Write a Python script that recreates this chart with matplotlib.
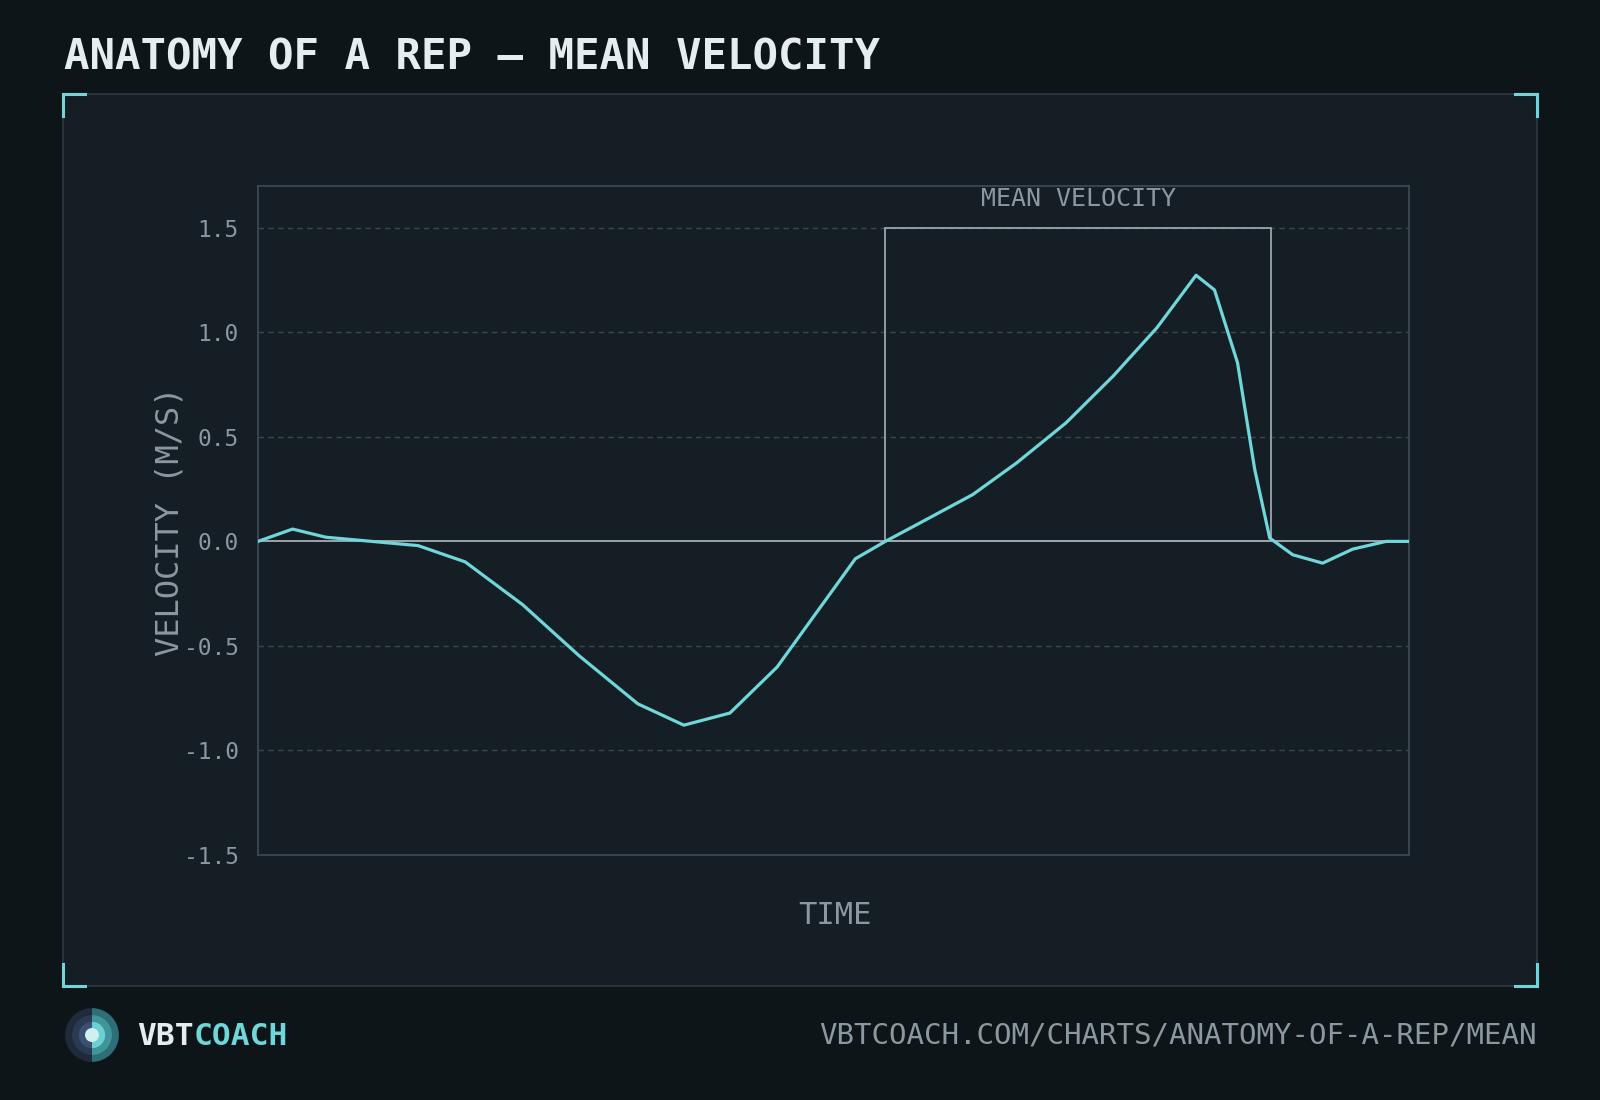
import numpy as np
import matplotlib
matplotlib.use("Agg")
import matplotlib.pyplot as plt
from matplotlib.patches import Rectangle, Wedge, Circle
from matplotlib.lines import Line2D

plt.rcParams['font.family'] = ['DejaVu Sans Mono', 'DejaVu Sans']
plt.rcParams['axes.unicode_minus'] = False

# ---- data (time normalised to the rep, velocity in m/s) ----
t_norm = [0.000, 0.030, 0.059, 0.099, 0.139, 0.180, 0.230, 0.279, 0.330, 0.370,
          0.410, 0.451, 0.519, 0.545, 0.575, 0.621, 0.659, 0.702, 0.743, 0.781,
          0.815, 0.831, 0.851, 0.866, 0.879, 0.899, 0.925, 0.951, 0.980, 1.000]
velocity = [0.000, 0.059, 0.020, 0.000, -0.020, -0.098, -0.303, -0.547, -0.777, -0.879,
            -0.821, -0.601, -0.083, 0.000, 0.088, 0.224, 0.375, 0.567, 0.791, 1.022,
            1.273, 1.203, 0.855, 0.343, 0.016, -0.064, -0.104, -0.037, 0.000, 0.000]

concentric_start = 0.545
concentric_end = 0.880
mean_box_top = 1.5

yticks = [-1.5, -1.0, -0.5, 0.0, 0.5, 1.0, 1.5]
ytick_labels = ['-1.5', '-1.0', '-0.5', '0.0', '0.5', '1.0', '1.5']

# ---- colours ----
BG = '#0e1519'
PANEL = '#161e25'
PANEL_EDGE = '#2e3940'
CYAN = '#6fd6d9'
MUTED = '#8b989f'
GRID = '#3a464e'
SPINE = '#3f4b53'
ZERO = '#b0bcc2'
WHITE = '#e6edf0'

W, H = 1600, 1100
fig = plt.figure(figsize=(16, 11), dpi=100, facecolor=BG)


def fx(px):
    return px / W


def fy(py):
    return 1 - py / H


# panel
x0, y0, x1, y1 = 63, 94, 1537, 986
fig.patches.append(Rectangle((fx(x0), fy(y1)), fx(x1 - x0), (y1 - y0) / H,
                             transform=fig.transFigure, facecolor=PANEL,
                             edgecolor=PANEL_EDGE, lw=1.2, zorder=-5))
# corner brackets
L = 22
for cx, cy, dx, dy in [(x0, y0, 1, 1), (x1, y0, -1, 1), (x0, y1, 1, -1), (x1, y1, -1, -1)]:
    fig.lines.append(Line2D([fx(cx), fx(cx + dx * L)], [fy(cy), fy(cy)],
                            transform=fig.transFigure, color=CYAN, lw=2.2, zorder=5))
    fig.lines.append(Line2D([fx(cx), fx(cx)], [fy(cy), fy(cy + dy * L)],
                            transform=fig.transFigure, color=CYAN, lw=2.2, zorder=5))

# main axes
ax = fig.add_axes([fx(258), fy(855), fx(1409 - 258), (855 - 186) / H])
ax.set_zorder(2)
ax.set_facecolor(PANEL)
ax.set_xlim(0, 1)
ax.set_ylim(-1.5, 1.7)
for s in ax.spines.values():
    s.set_color(SPINE)
    s.set_linewidth(1.2)
ax.set_xticks([])
ax.set_yticks(yticks)
ax.set_yticklabels(ytick_labels)
ax.tick_params(axis='y', length=0, pad=14, labelsize=16.5, labelcolor=MUTED)
for yv in yticks:
    if yv != 0:
        ax.axhline(yv, color=GRID, lw=1.0, ls=(0, (4, 3)), zorder=1)
ax.axhline(0, color=ZERO, lw=1.2, zorder=2)

ax.add_patch(Rectangle((concentric_start, 0), concentric_end - concentric_start, mean_box_top,
                       facecolor='none', edgecolor='#9aa6ad', lw=1.3, zorder=2))
ax.text((concentric_start + concentric_end) / 2, 1.64, 'MEAN VELOCITY', ha='center', va='center',
        color=MUTED, fontsize=18)

ax.plot(t_norm, velocity, color=CYAN, lw=2.3, zorder=3)

# axis labels
fig.text(fx(170), fy(521), 'VELOCITY (M/S)', rotation=90, ha='center', va='center',
         color=MUTED, fontsize=23, zorder=3)
fig.text(fx(835), fy(915), 'TIME', ha='center', va='center', color=MUTED, fontsize=22, zorder=3)

# title
fig.text(fx(64), fy(69), 'ANATOMY OF A REP \u2014 MEAN VELOCITY', ha='left', va='baseline',
         color=WHITE, fontsize=30.5, fontweight='bold')

# footer logo
lax = fig.add_axes([fx(92 - 28), fy(1035 + 28), fx(56), 56 / H])
lax.set_xlim(-1, 1)
lax.set_ylim(-1, 1)
lax.axis('off')
rings = [(1.0, '#1f2b3a', '#2c6f76'), (0.74, '#2a3a52', '#3f9599'), (0.49, '#3b5070', '#6ccfd3')]
for r, left_c, right_c in rings:
    lax.add_patch(Wedge((0, 0), r * 0.96, 90, 270, facecolor=left_c, edgecolor='none'))
    lax.add_patch(Wedge((0, 0), r * 0.96, -90, 90, facecolor=right_c, edgecolor='none'))
lax.add_patch(Circle((0, 0), 0.25, facecolor='#cfeff0', edgecolor='none'))

t1 = fig.text(fx(137), fy(1045), 'VBT', ha='left', va='baseline', color=WHITE,
              fontsize=22.5, fontweight='bold')
fig.canvas.draw()
bb = t1.get_window_extent()
fig.text(bb.x1 / W, fy(1045), 'COACH', ha='left', va='baseline', color=CYAN,
         fontsize=22.5, fontweight='bold')

fig.text(fx(1537), fy(1043), 'VBTCOACH.COM/CHARTS/ANATOMY-OF-A-REP/MEAN', ha='right',
         va='baseline', color=MUTED, fontsize=21)

fig.savefig('out.png', dpi=100, facecolor=BG)
